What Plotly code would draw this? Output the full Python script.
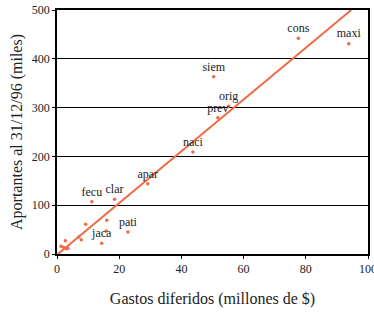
import plotly.graph_objects as go

# Data
gastos = [77.6, 93.8, 50.4, 55.2, 51.7, 43.7, 29.2, 11.2, 18.5, 22.8, 14.4,
          9.2, 16.0, 15.8, 7.8, 7.0, 2.7, 1.3, 2.1, 3.5, 3.0]
aportantes = [442, 431, 363, 303, 279, 209, 144, 107, 112, 45, 22,
              61, 69, 47, 29, 35, 27, 16, 14, 12, 11]
etiquetas = ["cons", "maxi", "siem", "orig", "prev", "naci", "apar", "fecu", "clar", "pati", "jaca",
             "", "", "", "", "", "", "", "", "", ""]

# Fitted line end points
ajuste_x = [0.3, 94.6]
ajuste_y = [0, 500]

x_ticks = [0, 20, 40, 60, 80, 100]
y_ticks = [0, 100, 200, 300, 400, 500]

COL = "#f26a45"
FONT = "Liberation Serif"

fig = go.Figure()
fig.add_trace(go.Scatter(x=ajuste_x, y=ajuste_y, mode="lines",
                         line=dict(color=COL, width=2), hoverinfo="skip"))
fig.add_trace(go.Scatter(x=gastos, y=aportantes, mode="markers+text",
                         text=etiquetas, textposition="top center", cliponaxis=False,
                         textfont=dict(family=FONT, size=12, color="#222"),
                         marker=dict(color=COL, size=3.5, symbol="circle")))

fig.update_layout(
    width=374, height=316,
    margin=dict(l=57, r=6, t=10, b=62),
    plot_bgcolor="white", paper_bgcolor="white",
    showlegend=False,
    font=dict(family=FONT, size=12, color="#222"),
    xaxis=dict(range=[0, 100], tickvals=x_ticks, showgrid=False, zeroline=False,
               showline=True, linecolor="black", linewidth=1.5, mirror=True,
               ticks="outside", ticklen=3, tickcolor="black", automargin=False,
               ticklabeloverflow="allow",
               tickfont=dict(family=FONT, size=12, color="#222"),
               title=dict(text="Gastos diferidos (millones de $)",
                          font=dict(family=FONT, size=16), standoff=18)),
    yaxis=dict(range=[0, 500], tickvals=y_ticks, showgrid=True, gridcolor="black", gridwidth=1,
               zeroline=False, automargin=False,
               showline=True, linecolor="black", linewidth=1.5, mirror=True,
               ticks="outside", ticklen=3, tickcolor="black",
               tickfont=dict(family=FONT, size=12, color="#222"),
               title=dict(text="Aportantes al 31/12/96 (miles)",
                          font=dict(family=FONT, size=16), standoff=5)),
)

fig.write_html("out.html", config={"displayModeBar": False},
               post_script="document.body.style.margin='0';document.body.style.overflow='hidden';")
